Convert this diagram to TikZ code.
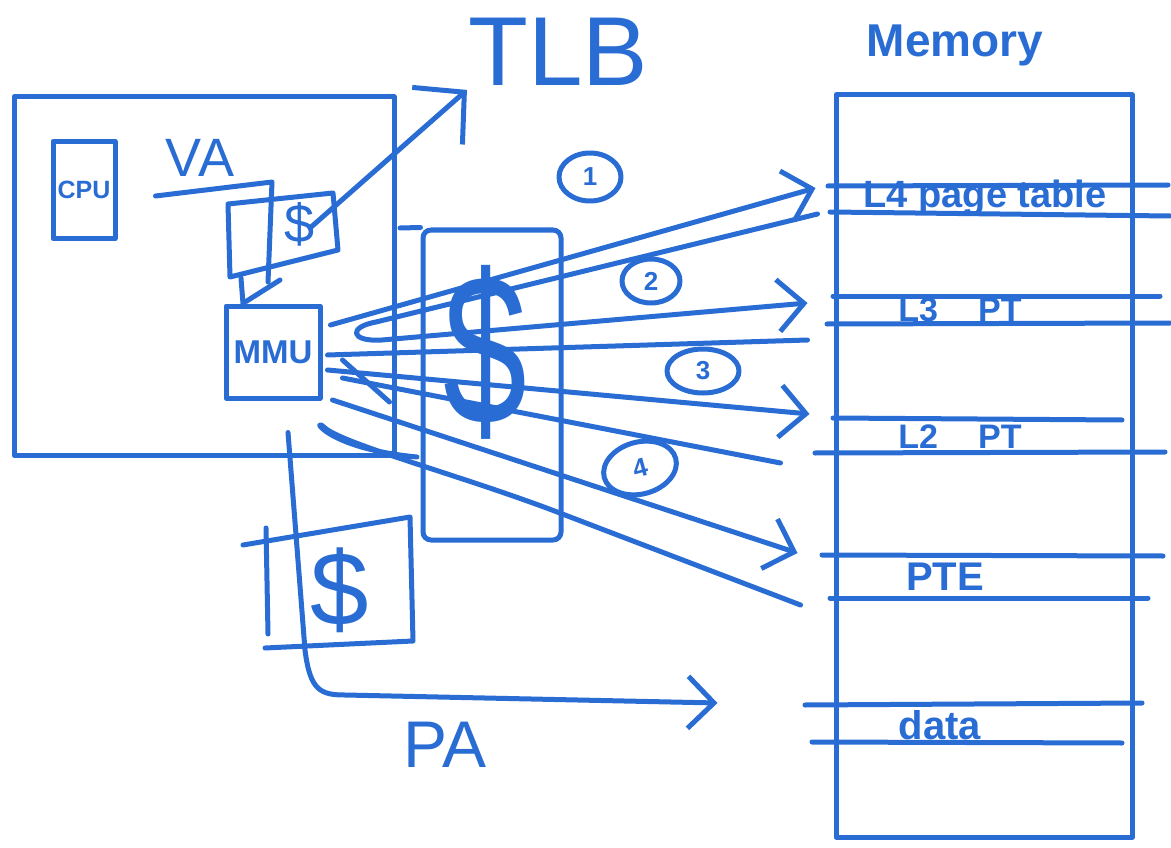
\documentclass[tikz,border=0pt]{standalone}
\usepackage{fontspec}
\setmainfont{Liberation Sans}
\usetikzlibrary{arrows.meta,calc,shapes.geometric}
\definecolor{ink}{RGB}{40,108,212}
\newcommand\myfs[1]{\fontsize{#1}{#1}\selectfont}
\begin{document}
\begin{tikzpicture}[x=1pt,y=-1pt,
  pen/.style={draw=ink,line width=5pt,line cap=round,line join=round},
  boxn/.style={pen,rectangle,inner sep=0pt,text=ink},
  txt/.style={text=ink,inner sep=0pt},
  barb/.style={-{Straight Barb[length=26pt,width=52pt]}},
  bigbarb/.style={-{Straight Barb[length=36pt,width=76pt]}},
  circ/.style={pen,ellipse,inner sep=0pt,text=ink,font=\bfseries\myfs{26}},
]
\fill[white] (0,0) rectangle (1171,848);
\useasboundingbox (0,0) rectangle (1171,848);

% chip with CPU, cache, MMU
\node[boxn,minimum width=380,minimum height=358] (chip) at (204,276) {};
\node[boxn,minimum width=62,minimum height=97,font=\bfseries\myfs{25}] (kpu) at (84,190) {CPU};
\node[txt,font=\myfs{54}] (va) at (200,158) {VA};
\draw[pen] ($(kpu.east)+(38,6)$) -- (272,182) -- (268,282);
\draw[pen] (228,204) -- (333,193) -- (338,250) -- (230,277) -- cycle;
\node[txt,font=\myfs{54}] (dcache) at (300,224) {\$};
\node[boxn,minimum width=94,minimum height=92,font=\bfseries\myfs{33}] (mmu) at (273,352) {MMU};
\draw[pen] (241,278) -- ($(mmu.north)+(-30,0)$);
\draw[pen] (280,280) -- ($(mmu.north)+(-27,-2)$);

% TLB
\node[txt,font=\myfs{98}] (tlb) at (558,52) {TLB};
\draw[pen,bigbarb] ($(dcache)+(10,4)$) -- ($(tlb.south west)+(-1,4)$);
\node[boxn,minimum width=138,minimum height=310,rounded corners=8pt] (tlbbox) at (492,385) {};
\draw[pen] (400,228) -- (tlbbox.north west);
\node[txt,font=\myfs{215},xscale=0.7] (tlbdollar) at (485,352) {\$};

% lower cache
\draw[pen] (243,545) -- (410,517) -- (413,641) -- (265,648);
\draw[pen] (266,528) -- (268,634);
\node[txt,font=\myfs{105}] (dlow) at (340,590) {\$};

% memory
\node[txt,font=\bfseries\myfs{46}] (memlbl) at (955,45) {Memory};
\node[boxn,minimum width=296,minimum height=742] (mem) at (984,466) {};
\node[txt,font=\bfseries\myfs{38}] (l4) at (985,198) {L4 page table};
\node[txt,font=\bfseries\myfs{34}] (l3) at (960,310) {L3\hspace{40pt}PT};
\node[txt,font=\bfseries\myfs{34}] (l2) at (960,437) {L2\hspace{40pt}PT};
\node[txt,font=\bfseries\myfs{40}] (pte) at (945,577) {PTE};
\node[txt,font=\bfseries\myfs{40}] (data) at (940,725) {data};
\draw[pen] (828,186) -- (1168,185);
\draw[pen] (830,212) -- (1170,216);
\draw[pen] (833,296) -- (1160,296);
\draw[pen] (827,324) -- (1170,323);
\draw[pen] (833,418) -- (1122,420);
\draw[pen] (815,453) -- (1165,452);
\draw[pen] (822,555) -- (1163,556);
\draw[pen] (830,598) -- (1148,598);
\draw[pen] (805,705) -- (1142,703);
\draw[pen] (812,742) -- (1122,743);

% page walk
\draw[pen,barb] ($(mmu.east)+(8,-27)$) -- ($(mem.west |- l4)+(-18,-10)$);
\draw[pen,barb] ($(mem.west |- l4)+(-16,16)$) -- (376,322) .. controls (348,327) and (350,342) .. (382,340) -- ($(mem.west |- l3)+(-26,-7)$);
\draw[pen] ($(mem.west |- l3)+(-26,30)$) -- ($(mmu.east)+(5,3)$);
\draw[pen,barb] ($(mmu.east)+(5,18)$) -- ($(mem.west |- l2)+(-24,-23)$);
\draw[pen] ($(mem.west |- l2)+(-53,26)$) -- ($(mmu.east)+(20,26)$);
\draw[pen] ($(mmu.east)+(20,8)$) -- ($(mmu.east)+(67,50)$);
\draw[pen,barb] ($(mmu.east)+(10,48)$) -- ($(mem.west |- pte)+(-36,-24)$);
\draw[pen] ($(mem.west |- pte)+(-33,28)$) -- (565,515) .. controls (470,478) and (345,445) .. (325,428) .. controls (310,414) and (322,448) .. (417,457);

% physical address
\draw[pen,barb] ($(mmu.south)+(15,32)$) -- (305,650) .. controls (310,690) and (320,695) .. (345,695) -- ($(mem.west |- data)+(-116,-22)$);
\node[txt,font=\myfs{66}] (pa) at (445,745) {PA};

% step numbers
\node[circ,minimum width=62,minimum height=48] (n1) at (590,177) {1};
\node[circ,minimum width=58,minimum height=44] (n2) at (651,281) {2};
\node[circ,minimum width=72,minimum height=44] (n3) at (703,371) {3};
\node[circ,minimum width=74,minimum height=52,rotate=15] (n4) at (640,468) {4};
\end{tikzpicture}
\end{document}
